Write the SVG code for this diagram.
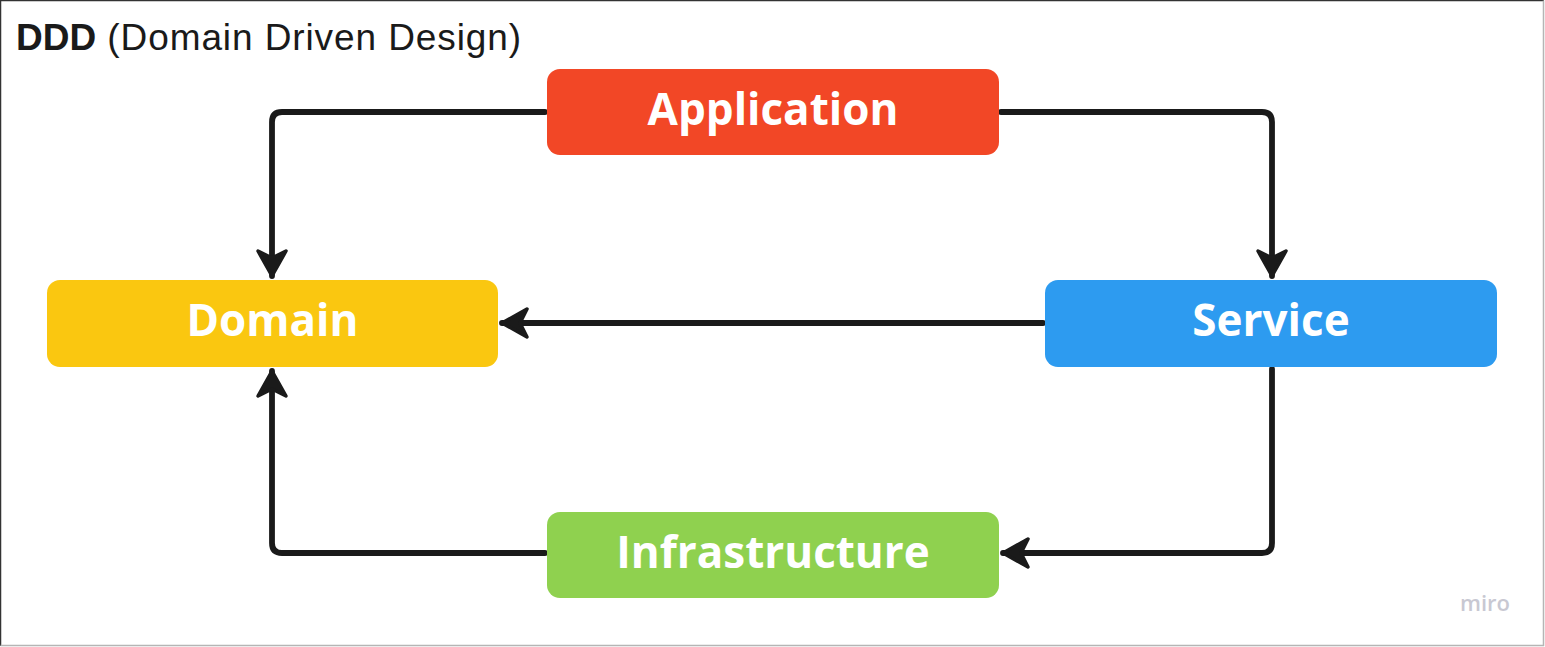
<svg xmlns="http://www.w3.org/2000/svg" width="1545" height="647" viewBox="0 0 1545 647">
<style>
.node-text{font-family:"Open Sans","Noto Sans",sans-serif;font-weight:700;font-size:44px;fill:#ffffff;text-anchor:middle;dominant-baseline:central}
.conn{fill:none;stroke:#1a1a1a;stroke-width:5.8;stroke-linejoin:round;stroke-linecap:round}
</style>
<defs>
<marker id="arr" viewBox="-2 -2 34 34" refX="28" refY="15" markerWidth="34" markerHeight="34" markerUnits="userSpaceOnUse" orient="auto">
<path d="M28,15 L3,1 L10,15 L3,29 Z" fill="#1a1a1a" stroke="#1a1a1a" stroke-width="3.5" stroke-linejoin="round"/>
</marker>
</defs>
<rect x="0" y="0" width="1545" height="647" fill="#ffffff"/>
<path d="M0.5,646 L0.5,0.5 L1544,0.5" fill="none" stroke="#333333" stroke-width="1.5"/>
<path d="M1543.5,0.5 L1543.5,645.5 L0.5,645.5" fill="none" stroke="#b5b5b5" stroke-width="1.5"/>
<text x="16" y="50" font-family="'Liberation Sans',Arial,sans-serif" font-size="37" fill="#1a1a1a"><tspan font-weight="700">DDD</tspan><tspan letter-spacing="0.9"> (Domain Driven Design)</tspan></text>
<g id="connectors">
<path class="conn" d="M545,112 L282,112 Q272,112 272,122 L272,276" marker-end="url(#arr)"/>
<path class="conn" d="M1001,112 L1262,112 Q1272,112 1272,122 L1272,276" marker-end="url(#arr)"/>
<path class="conn" d="M1043,323 L502,323" marker-end="url(#arr)"/>
<path class="conn" d="M1272,369 L1272,543 Q1272,553 1262,553 L1003,553" marker-end="url(#arr)"/>
<path class="conn" d="M545,553 L282,553 Q272,553 272,543 L272,371" marker-end="url(#arr)"/>
</g>
<g id="application">
<rect x="547" y="69" width="452" height="86" rx="13" fill="#F24726"/>
<text class="node-text" x="773" y="108">Application</text>
</g>
<g id="domain">
<rect x="47" y="280" width="451" height="87" rx="13" fill="#FAC710"/>
<text class="node-text" x="272.5" y="319">Domain</text>
</g>
<g id="service">
<rect x="1045" y="280" width="452" height="87" rx="13" fill="#2D9BF0"/>
<text class="node-text" x="1271" y="319">Service</text>
</g>
<g id="infrastructure">
<rect x="547" y="512" width="452" height="86" rx="13" fill="#8FD14F"/>
<text class="node-text" x="773" y="551">Infrastructure</text>
</g>
<text x="1485" y="611" text-anchor="middle" font-family="'Open Sans',sans-serif" font-weight="600" font-size="22" fill="#c8c8d2">miro</text>
</svg>
